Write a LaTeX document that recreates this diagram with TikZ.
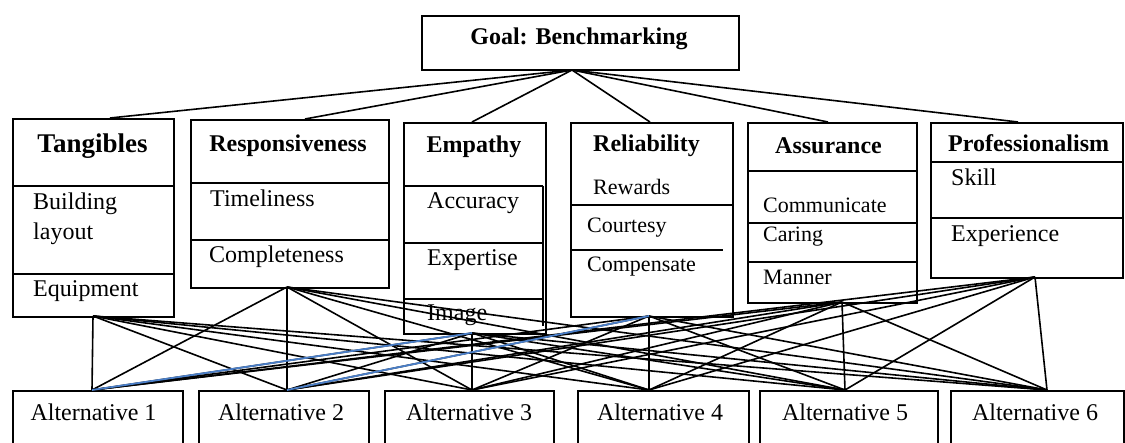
\documentclass[tikz,border=0pt]{standalone}
\usepackage{fontspec}
\setmainfont{Liberation Serif}
\definecolor{linkblue}{HTML}{4A7EC7}
\begin{document}
\begin{tikzpicture}[x=1pt,y=-1pt]
\tikzset{
  box/.style={draw, line width=1.8pt, inner sep=0pt, anchor=north west},
  sep/.style={line width=1.2pt},
  sepb/.style={line width=1.7pt},
  ttl/.style={font=\bfseries\fontsize{24}{28}\selectfont, inner sep=0pt, anchor=base},
  ttlw/.style={font=\bfseries\fontsize{24}{28}\selectfont, inner sep=0pt, anchor=base west},
  lbl/.style={font=\fontsize{24}{28}\selectfont, inner sep=0pt, anchor=base west},
  sml/.style={font=\fontsize{22}{26}\selectfont, inner sep=0pt, anchor=base west},
  alt/.style={font=\fontsize{24}{28}\selectfont, inner sep=0pt, anchor=base},
  link/.style={line width=1.6pt},
  blink/.style={line width=1.8pt, draw=linkblue}
}
\path[use as bounding box] (0,0) rectangle (1125,443);
\clip (0,0) rectangle (1125,443);

% goal
\node[box, minimum width=317pt, minimum height=54pt] (goal) at (421,15) {};
\node[ttl] (goalt) at (579,45) {Goal: Benchmarking};

% criteria boxes
\node[box, minimum width=161pt, minimum height=198pt] (tang) at (12,118) {};
\draw[sep] (12,186) -- (173,186);
\draw[sep] (12,274) -- (173,274);
\node[ttl, font=\bfseries\fontsize{27}{30}\selectfont] (tang-t) at (92.5,153) {Tangibles};
\node[lbl] (tang-a) at (33,210) {Building};
\node[lbl] (tang-b) at (33,240) {layout};
\node[lbl] (tang-c) at (33,297) {Equipment};

\node[box, minimum width=198pt, minimum height=168pt] (resp) at (190,119) {};
\draw[sep] (190,183) -- (388,183);
\draw[sep] (190,240) -- (388,240);
\node[ttl] (resp-t) at (288,152) {Responsiveness};
\node[lbl] (resp-a) at (210,207) {Timeliness};
\node[lbl] (resp-b) at (209,263) {Completeness};

\node[box, minimum width=142pt, minimum height=211pt] (emp) at (403,122) {};
\draw[sep] (403,186) -- (543,186);
\draw[sep] (403,243) -- (543,243);
\draw[sep] (403,299) -- (543,299);
\draw[sep] (543,186) -- (543,326);
\node[ttl] (emp-t) at (474,153) {Empathy};
\node[lbl] (emp-a) at (427,209) {Accuracy};
\node[lbl] (emp-b) at (427,266) {Expertise};
\node[lbl] (emp-c) at (427,321) {Image};

\node[box, minimum width=162pt, minimum height=194pt] (rel) at (570,122) {};
\draw[sepb] (570,205) -- (732,205);
\draw[sepb] (570,250) -- (723,250);
\node[ttlw] (rel-t) at (593,152) {Reliability};
\node[sml] (rel-a) at (593,195) {Rewards};
\node[sml] (rel-b) at (587,233) {Courtesy};
\node[sml] (rel-c) at (587,272) {Compensate};

\node[box, minimum width=169pt, minimum height=180pt] (ass) at (747,122) {};
\draw[sepb] (747,171) -- (916,171);
\draw[sepb] (747,223) -- (916,223);
\draw[sepb] (747,262) -- (916,262);
\node[ttlw] (ass-t) at (775,154) {Assurance};
\node[sml] (ass-a) at (763,213) {Communicate};
\node[sml] (ass-b) at (763,242) {Caring};
\node[sml] (ass-c) at (763,285) {Manner};

\node[box, minimum width=192pt, minimum height=155pt] (pro) at (930,122) {};
\draw[sep] (930,162) -- (1122,162);
\draw[sep] (930,218) -- (1122,218);
\node[ttlw] (pro-t) at (948,152) {Professionalism};
\node[lbl] (pro-a) at (951,186) {Skill};
\node[lbl] (pro-b) at (951,242) {Experience};

% alternatives (lower edges run off the page)
\node[box, minimum width=170pt, minimum height=70pt] (alt1) at (12,390) {};
\node[box, minimum width=170pt, minimum height=70pt] (alt2) at (198,390) {};
\node[box, minimum width=169pt, minimum height=70pt] (alt3) at (384,390) {};
\node[box, minimum width=171pt, minimum height=70pt] (alt4) at (577,390) {};
\node[box, minimum width=178pt, minimum height=70pt] (alt5) at (759,390) {};
\node[box, minimum width=173pt, minimum height=70pt] (alt6) at (950,390) {};
\node[alt] (alt1-t) at (93.5,421) {Alternative 1};
\node[alt] (alt2-t) at (281,421) {Alternative 2};
\node[alt] (alt3-t) at (469,421) {Alternative 3};
\node[alt] (alt4-t) at (660,421) {Alternative 4};
\node[alt] (alt5-t) at (845,421) {Alternative 5};
\node[alt] (alt6-t) at (1035,421) {Alternative 6};

% connection points
\coordinate (goal-p) at (572,70);
\coordinate (tang-in) at (110,118);
\coordinate (resp-in) at (305,119);
\coordinate (emp-in) at (472,122);
\coordinate (rel-in) at (650,122);
\coordinate (ass-in) at (828,122);
\coordinate (pro-in) at (1018,122);
\coordinate (tang-out) at (93,316);
\coordinate (resp-out) at (287,287);
\coordinate (emp-out) at (472,333);
\coordinate (rel-out) at (649,316);
\coordinate (ass-out) at (842,302);
\coordinate (pro-out) at (1035,277);
\coordinate (alt1-in) at (92,390);
\coordinate (alt2-in) at (287,390);
\coordinate (alt3-in) at (472,390);
\coordinate (alt4-in) at (649,390);
\coordinate (alt5-in) at (845,390);
\coordinate (alt6-in) at (1047,390);

% goal to criteria
\foreach \c in {tang,resp,emp,rel,ass,pro}
  \draw[link] (goal-p) -- (\c-in);

% criteria to alternatives
\foreach \c in {tang,resp,emp,rel,ass,pro}
  \foreach \a in {alt1,alt2,alt3,alt4,alt5,alt6}
    \draw[link] (\c-out) -- (\a-in);

\draw[blink] (emp-out) -- (alt1-in);
\draw[blink] (rel-out) -- (alt2-in);
\end{tikzpicture}
\end{document}
